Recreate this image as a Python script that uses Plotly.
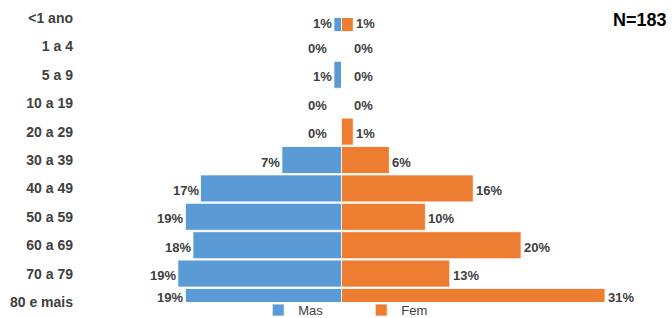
import plotly.graph_objects as go

ages = ["<1 ano", "1 a 4", "5 a 9", "10 a 19", "20 a 29", "30 a 39",
        "40 a 49", "50 a 59", "60 a 69", "70 a 79", "80 e mais"]
mas = [0.9, 0.0, 0.9, 0.0, 0.0, 7.1, 16.8, 18.6, 17.7, 19.5, 18.6]
fem = [1.4, 0.0, 0.0, 0.0, 1.4, 5.7, 15.7, 10.0, 21.4, 12.9, 31.4]
mas_labels = ["1%", "0%", "1%", "0%", "0%", "7%", "17%", "19%", "18%", "19%", "19%"]
fem_labels = ["1%", "0%", "0%", "0%", "1%", "6%", "16%", "10%", "20%", "13%", "31%"]
n_text = "N=183"

BLUE = "#5B9BD5"
ORANGE = "#ED7D31"
TXT = "#404040"
FONT = "Liberation Sans"

fig = go.Figure()
fig.add_trace(go.Bar(y=ages, x=[-v for v in mas], orientation="h", name="Mas",
                     marker=dict(color=BLUE, line=dict(color="white", width=0.8)),
                     hoverinfo="skip"))
fig.add_trace(go.Bar(y=ages, x=fem, orientation="h", name="Fem",
                     marker=dict(color=ORANGE, line=dict(color="white", width=0.8)),
                     hoverinfo="skip"))

ann = []
last = len(ages) - 1
for i, (a, v, t) in enumerate(zip(ages, mas, mas_labels)):
    ys = -2
    if i == 0:
        ys = -5
    elif i == last:
        ys = 5
    ann.append(dict(x=-v, y=a, xref="x", yref="y", text="<b>%s</b>" % t, showarrow=False,
                    xanchor="right", yanchor="middle", xshift=(-13 if v == 0 else 0), yshift=ys,
                    font=dict(family=FONT, size=13, color=TXT)))
for i, (a, v, t) in enumerate(zip(ages, fem, fem_labels)):
    ys = -2
    if i == 0:
        ys = -5
    elif i == last:
        ys = 5
    ann.append(dict(x=v, y=a, xref="x", yref="y", text="<b>%s</b>" % t, showarrow=False,
                    xanchor="left", yanchor="middle", xshift=(10 if v == 0 else 1), yshift=ys,
                    font=dict(family=FONT, size=13, color=TXT)))
ann.append(dict(x=1, y=1, xref="paper", yref="paper", text="<b>%s</b>" % n_text,
                showarrow=False, xanchor="right", yanchor="middle", xshift=64, yshift=-2,
                font=dict(family=FONT, size=18, color="#000000")))

fig.update_layout(
    width=672, height=318,
    margin=dict(l=78, r=67, t=18, b=16, autoexpand=False),
    paper_bgcolor="white", plot_bgcolor="white",
    barmode="relative", bargap=0.05,
    showlegend=True,
    legend=dict(orientation="h", x=0.342, xanchor="left",
                yref="container", y=0.072, yanchor="top",
                bgcolor="rgba(0,0,0,0)",
                font=dict(family=FONT, size=13, color=TXT),
                entrywidth=58, entrywidthmode="pixels", traceorder="normal"),
    xaxis=dict(range=[-31.4, 31.4], visible=False, fixedrange=True),
    yaxis=dict(type="category", categoryorder="array", categoryarray=ages,
               range=[10, 0], showgrid=False, zeroline=False, showline=False, ticks="",
               ticklabelstandoff=4, fixedrange=True,
               tickfont=dict(family=FONT, size=14, color=TXT)),
    yaxis2=dict(overlaying="y", anchor="free", position=0.5, side="right",
                range=[10, 0], tickmode="array", tickvals=list(range(11)), fixedrange=True,
                showticklabels=False, ticks="outside", ticklen=5, tickcolor="#D9D9D9",
                showline=True, linecolor="#D9D9D9", linewidth=1, showgrid=False, zeroline=False),
    annotations=ann,
)
fig.update_yaxes(tickprefix="<b>", ticksuffix="</b>", selector=dict(type="category"))

fig.write_html("out.html", config={"displayModeBar": False},
               post_script="document.body.style.margin='0';")
